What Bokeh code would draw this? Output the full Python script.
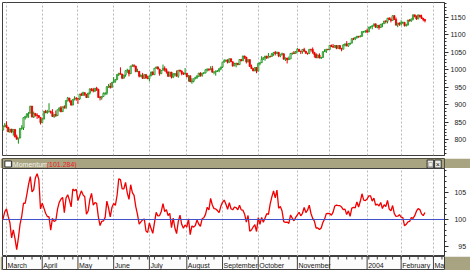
import pandas as pd
from bokeh.plotting import figure
from bokeh.layouts import column
from bokeh.models import Range1d, FixedTicker, Span, ColumnDataSource
from bokeh.embed import file_html
from bokeh.resources import INLINE
from bokeh.core.properties import value

# ---------------- data (S&P 500 daily, Feb 26 2003 - Feb 23 2004) ----------------
warmup_closes = [829.69, 835.97, 829.20, 818.68, 817.37, 834.89, 851.17, 845.13,
                 837.10, 848.17, 832.58, 838.57]

closes = [
    827.55, 837.28, 841.15,
    834.81, 821.99, 829.85, 822.10, 828.89, 807.48, 800.73, 804.19, 831.90, 833.27,
    862.79, 866.45, 874.02, 875.67, 895.79, 864.23, 874.74, 869.95, 868.52, 863.50, 848.18,
    858.48, 880.90, 876.45, 878.85, 879.93, 878.29, 865.99, 871.58, 868.30, 885.23,
    890.81, 879.91, 893.58, 892.01, 911.37, 919.02, 911.43, 898.81, 914.84, 917.84, 916.92,
    916.30, 930.08, 926.55, 934.39, 929.62, 920.27, 933.41, 945.11, 942.30, 939.28,
    946.67, 944.30, 920.77, 919.73, 923.42, 931.87, 933.22, 951.48, 953.22, 949.64, 963.59,
    967.00, 971.56, 986.24, 990.14, 987.76, 975.93, 984.84, 997.48, 998.51, 988.61,
    1010.74, 1011.66, 1010.09, 994.70, 995.69, 981.64, 983.45, 975.32, 985.82, 976.22, 974.50,
    982.32, 993.75, 985.70, 1004.42, 1007.84, 1002.21, 988.70, 998.14, 1003.86, 1000.42,
    994.09, 981.73, 993.32, 978.80, 988.11, 988.61, 981.60, 998.68, 996.52, 989.28, 987.49, 990.31,
    980.15, 982.82, 965.46, 967.08, 974.12, 977.59, 980.59, 990.35, 984.03, 990.51,
    990.67, 999.74, 1002.35, 1000.30, 1003.27, 993.06, 993.71, 996.73, 996.79, 1002.84, 1008.01,
    1021.99, 1026.27, 1027.97, 1021.39, 1031.64, 1023.17, 1010.92, 1016.42, 1018.63, 1014.81,
    1029.32, 1025.97, 1039.58, 1036.30, 1022.82, 1029.03, 1009.38, 1003.27, 996.85, 1006.58, 995.97,
    1018.22, 1020.24, 1029.85, 1034.35, 1039.25, 1033.78, 1038.73, 1038.06, 1045.35, 1049.48,
    1046.76, 1050.07, 1039.32, 1044.68, 1046.03, 1030.36, 1033.77, 1028.91, 1031.13, 1046.79,
    1048.11, 1046.94, 1050.71,
    1059.02, 1053.25, 1051.81, 1058.05, 1053.21, 1047.11, 1046.57, 1058.53, 1058.41, 1050.35,
    1043.63, 1034.15, 1042.44, 1033.65, 1035.28, 1052.08, 1053.89, 1058.45, 1058.20,
    1070.12, 1066.62, 1064.73, 1069.72, 1061.50, 1069.30, 1060.18, 1059.05, 1071.21, 1074.14,
    1068.04, 1075.13, 1076.48, 1089.18, 1088.66, 1092.94, 1096.02, 1094.04, 1095.89, 1109.48,
    1109.64, 1111.92,
    1108.48, 1122.22, 1123.67, 1126.33, 1131.92, 1121.86, 1127.23, 1121.22, 1130.52, 1132.05,
    1139.83, 1138.77, 1147.62, 1143.94, 1141.55, 1155.37, 1144.05, 1128.48, 1134.11, 1131.13,
    1135.26, 1136.03, 1126.52, 1128.59, 1142.76, 1139.81, 1145.54, 1157.76, 1152.11, 1145.81,
    1156.99, 1151.82, 1147.06, 1144.11, 1140.99,
]

highs = [
    840, 840, 847,
    852, 836, 830, 830, 829, 829, 814, 804, 832, 841, 863, 866, 874, 879, 896, 896, 880, 875, 875, 869, 864,
    861, 881, 885, 885, 904, 883, 887, 872, 883, 885, 891, 896, 894, 898, 912, 922, 919, 911, 915, 924, 922,
    919, 930, 934, 937, 934, 930, 933, 946, 947, 948, 948, 951, 945, 925, 924, 935, 935, 952, 959, 962, 965,
    979, 973, 987, 990, 1007, 988, 985, 998, 1003, 1000, 1011, 1016, 1016, 1012, 1003, 996, 987, 991, 987, 988, 983,
    983, 994, 995, 1005, 1009, 1010, 1002, 999, 1015, 1010, 1004, 994, 994, 993, 990, 990, 998, 999, 1000, 998, 993, 1005,
    990, 985, 983, 976, 974, 980, 985, 990, 993, 991, 993, 1001, 1003, 1003, 1010, 1011, 995, 997, 998, 1004, 1008,
    1022, 1030, 1029, 1030, 1032, 1032, 1023, 1020, 1020, 1019, 1029, 1031, 1040, 1040, 1036, 1030, 1030, 1015, 1004, 1007, 1007,
    1018, 1021, 1039, 1036, 1039, 1040, 1048, 1040, 1048, 1050, 1054, 1052, 1051, 1045, 1049, 1046, 1035, 1034, 1038, 1047,
    1049, 1054, 1054,
    1062, 1059, 1054, 1058, 1063, 1054, 1049, 1059, 1060, 1064, 1050, 1048, 1043, 1047, 1037, 1052, 1059, 1060, 1060,
    1071, 1072, 1074, 1070, 1070, 1070, 1071, 1063, 1073, 1075, 1082, 1076, 1077, 1090, 1092, 1093, 1097, 1096, 1099, 1110,
    1110, 1113,
    1118, 1123, 1124, 1127, 1131, 1131, 1128, 1129, 1131, 1133, 1140, 1142, 1149, 1151, 1150, 1155, 1155, 1150, 1134, 1136,
    1142, 1138, 1136, 1132, 1143, 1145, 1147, 1158, 1157, 1156, 1159, 1157, 1158, 1149, 1146,
]

lows = [
    824, 826, 835,
    832, 821, 819, 818, 811, 806, 800, 788, 804, 828, 827, 857, 861, 862, 876, 864, 862, 866, 859, 861, 843,
    847, 858, 876, 874, 879, 874, 865, 862, 865, 868, 880, 878, 879, 888, 887, 909, 906, 897, 898, 912, 911,
    902, 913, 926, 926, 925, 919, 920, 929, 938, 935, 936, 939, 920, 912, 914, 922, 927, 928, 948, 946, 949,
    963, 963, 971, 982, 986, 973, 975, 980, 991, 981, 988, 1009, 1007, 993, 993, 978, 979, 974, 975, 975, 973,
    967, 982, 985, 986, 1003, 1001, 983, 989, 999, 995, 989, 979, 981, 975, 976, 981, 981, 977, 993, 984, 985, 987,
    978, 966, 965, 960, 964, 973, 974, 980, 980, 980, 988, 990, 995, 996, 999, 992, 987, 983, 994, 993, 999,
    1005, 1021, 1022, 1018, 1021, 1022, 1009, 1011, 1007, 1013, 1015, 1024, 1025, 1031, 1018, 1021, 1009, 1003, 996, 996, 990,
    996, 1013, 1020, 1029, 1026, 1031, 1034, 1035, 1038, 1040, 1041, 1045, 1036, 1036, 1041, 1029, 1025, 1018, 1028, 1031,
    1043, 1045, 1047,
    1051, 1051, 1045, 1046, 1052, 1047, 1043, 1046, 1052, 1046, 1035, 1034, 1034, 1033, 1031, 1035, 1051, 1048, 1056,
    1058, 1065, 1064, 1063, 1059, 1061, 1059, 1053, 1059, 1067, 1068, 1066, 1071, 1076, 1085, 1085, 1089, 1092, 1094, 1096,
    1106, 1106,
    1105, 1108, 1118, 1116, 1124, 1121, 1119, 1115, 1121, 1122, 1132, 1133, 1133, 1143, 1136, 1141, 1144, 1126, 1122, 1126,
    1127, 1131, 1124, 1124, 1127, 1139, 1138, 1142, 1151, 1143, 1145, 1150, 1146, 1139, 1136,
]

holidays = ["2003-02-17", "2003-04-18", "2003-05-26", "2003-07-04", "2003-09-01",
            "2003-11-27", "2003-12-25", "2004-01-01", "2004-01-19", "2004-02-16"]
month_labels = ["March", "April", "May", "June", "July", "August", "September",
                "October", "November", "", "2004", "February", "March"]
price_ticks = [800, 850, 900, 950, 1000, 1050, 1100, 1150]
momentum_ticks = [95, 100, 105]
momentum_period = 12
indicator_name = "Momentum"

# ---------------- derived ----------------
calendar = [d for d in pd.bdate_range("2003-02-26", "2004-03-10")
            if d.strftime("%Y-%m-%d") not in holidays]
n = len(closes)
assert len(highs) == n and len(lows) == n
xs = list(range(n))
opens = [warmup_closes[-1]] + closes[:-1]
full = warmup_closes + closes
momentum = [full[i + momentum_period] / full[i] * 100 for i in range(n)]

month_starts, week_starts = [], []
for i in range(1, len(calendar)):
    if calendar[i].month != calendar[i - 1].month:
        month_starts.append(i)
    if calendar[i].isocalendar()[1] != calendar[i - 1].isocalendar()[1]:
        week_starts.append(i)
month_starts = month_starts[:len(month_labels)]

up = [c >= o for o, c in zip(opens, closes)]
src = ColumnDataSource(dict(
    x=xs, o=opens, c=closes, h=highs, l=lows,
    top=[max(o, c) for o, c in zip(opens, closes)],
    bot=[min(o, c) for o, c in zip(opens, closes)],
    col=["#109010" if u else "#f00000" for u in up],
    fill=["#ffffff" if u else "#f00000" for u in up],
))

W = 470
FONT = "Liberation Sans"
FS = "7px"
KHAKI = "#a8a482"
x_range = Range1d(0.649, 260.5)

def pad(t):
    s = str(t)
    return "\u2007" * (4 - len(s)) + s

def style_axis(ax, ticks, minor):
    ax.ticker = FixedTicker(ticks=ticks, minor_ticks=minor)
    ax.major_label_overrides = {t: pad(t) for t in ticks}
    ax.axis_line_color = "#303030"
    ax.major_tick_line_color = "#303030"
    ax.minor_tick_line_color = "#303030"
    ax.major_tick_out = 4
    ax.major_tick_in = 0
    ax.minor_tick_out = 2
    ax.minor_tick_in = 0
    ax.major_label_standoff = 2
    ax.major_label_text_font = FONT
    ax.major_label_text_font_size = FS
    ax.major_label_text_color = "#202020"

# ---------------- price panel ----------------
p = figure(width=W, height=157, x_range=x_range, y_range=Range1d(754, 1193),
           output_backend="svg", toolbar_location=None, x_axis_location=None,
           y_axis_location="right", min_border_left=2, min_border_right=26,
           min_border_top=2, min_border_bottom=2)
p.background_fill_color = "white"
p.border_fill_color = "white"
p.outline_line_color = "#404040"
style_axis(p.yaxis[0], price_ticks, list(range(760, 1200, 10)))
p.ygrid.visible = False
p.xgrid.ticker = FixedTicker(ticks=month_starts)
p.xgrid.grid_line_color = "#b8b8b8"
p.xgrid.grid_line_dash = "2 2"
p.segment(x0="x", y0="h", x1="x", y1="l", color="col", line_width=1, source=src)
p.vbar(x="x", width=0.7, top="top", bottom="bot", fill_color="fill", line_color="col",
       line_width=0.8, source=src)

# ---------------- indicator header bar ----------------
h = figure(width=W, height=11, x_range=Range1d(0, W), y_range=Range1d(0, 11),
           output_backend="svg", toolbar_location=None, x_axis_location=None,
           y_axis_location=None, min_border=0)
h.background_fill_color = KHAKI
h.border_fill_color = KHAKI
h.outline_line_color = "#505040"
h.grid.visible = False
h.rect(x=[6], y=[5.5], width=[7], height=[6], fill_color="white", line_color="#303030")
h.text(x=[11], y=[5.2], text=[indicator_name], text_font=value(FONT), text_font_size=FS,
       text_color="#f4f4ee", text_baseline="middle")
h.text(x=[47], y=[5.2], text=["(%.3f)" % momentum[-1]], text_font=value(FONT),
       text_font_size=FS, text_color="#e82020", text_baseline="middle")
h.rect(x=[455, 463], y=[5.5, 5.5], width=[7, 7], height=[8, 8], fill_color="#ecece4",
       line_color="#303030")
h.text(x=[455, 463], y=[5.2, 5.2], text=["\u25a1", "\u00d7"], text_font=value(FONT),
       text_font_size=FS, text_color="#101010", text_align="center", text_baseline="middle")

# ---------------- momentum panel ----------------
m = figure(width=W, height=88, x_range=x_range, y_range=Range1d(93.15, 109.44),
           output_backend="svg", toolbar_location=None, x_axis_location=None,
           y_axis_location="right", min_border_left=2, min_border_right=26,
           min_border_top=0, min_border_bottom=0)
m.background_fill_color = "white"
m.border_fill_color = "white"
m.outline_line_color = "#404040"
style_axis(m.yaxis[0], momentum_ticks, list(range(94, 110)))
m.ygrid.visible = False
m.xgrid.ticker = FixedTicker(ticks=month_starts)
m.xgrid.grid_line_color = "#b8b8b8"
m.xgrid.grid_line_dash = "2 2"
m.add_layout(Span(location=100, dimension="width", line_color="#4050c8", line_width=1))
m.line(xs, momentum, line_color="#f00000", line_width=1.3)

# ---------------- date axis strip ----------------
b = figure(width=W, height=14, x_range=x_range, y_range=Range1d(0, 14),
           output_backend="svg", toolbar_location=None, x_axis_location=None,
           y_axis_location=None, min_border_left=2, min_border_right=26,
           min_border_top=0, min_border_bottom=0)
b.background_fill_color = "#fbfbfb"
b.border_fill_color = KHAKI
b.outline_line_color = "#404040"
b.grid.visible = False
b.segment(x0=week_starts, y0=[14] * len(week_starts), x1=week_starts,
          y1=[11] * len(week_starts), line_color="#404040", line_width=1)
b.segment(x0=month_starts, y0=[0] * len(month_starts), x1=month_starts,
          y1=[14] * len(month_starts), line_color="#404040", line_width=1)
b.text(x=[s + 0.6 for s in month_starts], y=[5.5] * len(month_starts), text=month_labels,
       text_font=value(FONT), text_font_size=FS, text_color="#202020",
       text_baseline="middle")

layout = column(p, h, m, b, spacing=0)
open("out.html", "w").write(file_html(layout, INLINE))
